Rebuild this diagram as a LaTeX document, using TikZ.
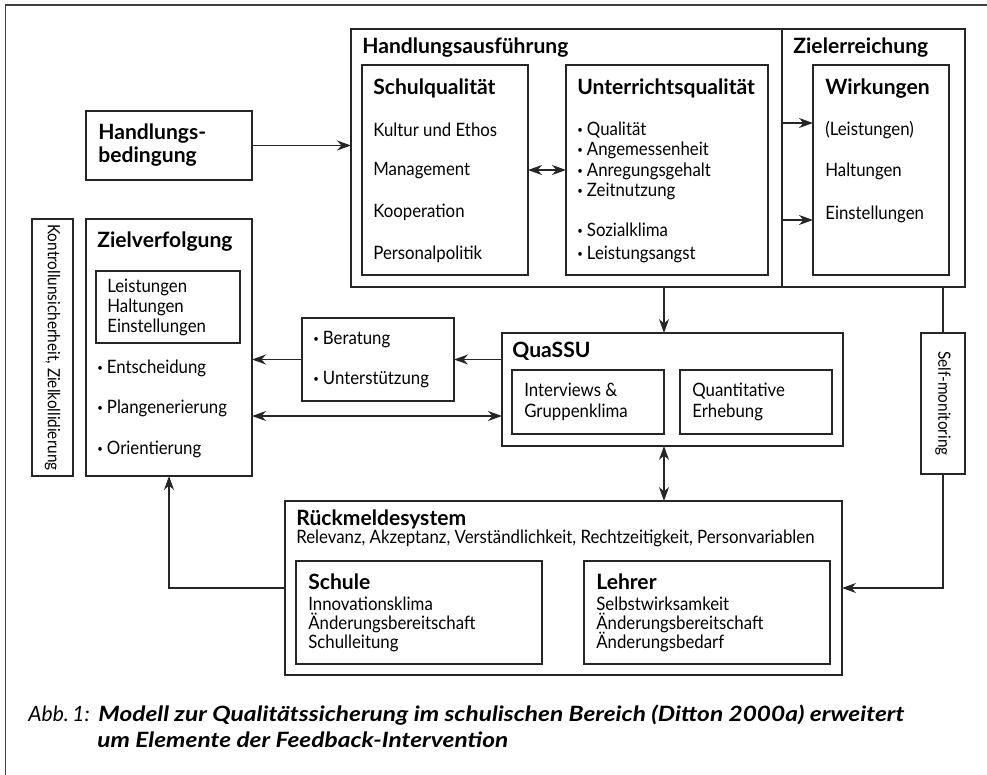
\documentclass[tikz,border=0pt]{standalone}
\usepackage{fontspec}
\setmainfont{Lato}
\newfontfamily\bodyfont{Lato}[FakeStretch=0.91]
\usetikzlibrary{arrows.meta}

\newcommand{\itemdot}{{\raisebox{0.2ex}{\fontsize{6}{6}\selectfont •}}\hspace{0.22em}}

\begin{document}
\begin{tikzpicture}[
  box/.style={draw=black!85, line width=0.8pt, inner sep=0pt, outer sep=0pt, anchor=north west},
  txt/.style={anchor=base west, inner sep=0pt, font=\bodyfont\fontsize{10.5}{12}\selectfont},
  rot/.style={inner sep=0pt, anchor=center, rotate=-90, font=\bodyfont\fontsize{9.6}{11}\selectfont},
  ttl/.style={anchor=base west, inner sep=0pt, font=\fontsize{12}{14}\selectfont\bfseries},
  captxt/.style={anchor=base west, inner sep=0pt, font=\fontsize{12}{14}\selectfont\bfseries\itshape},
  arr/.style={draw=black!85, line width=0.8pt, -{Stealth[length=0.28cm,width=0.2cm,inset=0.09cm]}},
  dbl/.style={draw=black!85, line width=0.8pt, {Stealth[length=0.28cm,width=0.2cm,inset=0.09cm]}-{Stealth[length=0.28cm,width=0.2cm,inset=0.09cm]}},
  line/.style={draw=black!85, line width=0.8pt}
]
  \useasboundingbox (0cm,0cm) rectangle (19.74cm,-15.5cm);
  \draw[draw=black!75, line width=0.8pt] (19.74cm,-0.1cm) -- (0.11cm,-0.1cm) -- (0.11cm,-15.5cm);

  % boxes
  \node[box, minimum width=3.32cm, minimum height=1.38cm] (bed) at (1.72cm,-2.22cm) {};
  \node[box, minimum width=8.62cm, minimum height=5.16cm] (ausf) at (7.02cm,-0.58cm) {};
  \node[box, minimum width=3.66cm, minimum height=5.16cm] (ziel) at (15.64cm,-0.58cm) {};
  \node[box, minimum width=3.32cm, minimum height=4.2cm] (schul) at (7.24cm,-1.3cm) {};
  \node[box, minimum width=4.04cm, minimum height=4.2cm] (unt) at (11.32cm,-1.3cm) {};
  \node[box, minimum width=2.72cm, minimum height=4.2cm] (wirk) at (16.26cm,-1.3cm) {};
  \node[box, minimum width=3.32cm, minimum height=5.14cm] (zielv) at (1.72cm,-4.38cm) {};
  \node[box, minimum width=2.88cm, minimum height=1.44cm] (leist) at (1.92cm,-5.42cm) {};
  \node[box, minimum width=0.82cm, minimum height=5.14cm] (kontr) at (0.64cm,-4.38cm) {};
  \node[box, minimum width=3.04cm, minimum height=1.66cm] (ber) at (6.04cm,-6.36cm) {};
  \node[box, minimum width=6.82cm, minimum height=2.26cm] (quassu) at (10.04cm,-6.66cm) {};
  \node[box, minimum width=3.04cm, minimum height=1.28cm] (interv) at (10.24cm,-7.4cm) {};
  \node[box, minimum width=3.04cm, minimum height=1.28cm] (quant) at (13.6cm,-7.4cm) {};
  \node[box, minimum width=0.88cm, minimum height=2.82cm] (selfm) at (18.42cm,-6.66cm) {};
  \node[box, minimum width=11.14cm, minimum height=3.48cm] (rueck) at (5.7cm,-10.02cm) {};
  \node[box, minimum width=4.92cm, minimum height=2.06cm] (schule) at (5.92cm,-11.22cm) {};
  \node[box, minimum width=4.92cm, minimum height=2.06cm] (lehrer) at (11.68cm,-11.22cm) {};

  % texts
  \node[ttl] (bed-1) at (1.96cm,-2.78cm) {Handlungs-};
  \node[ttl] (bed-2) at (1.96cm,-3.24cm) {bedingung};
  \node[ttl] (ausf-t) at (7.24cm,-1.06cm) {Handlungsausführung};
  \node[ttl] (ziel-t) at (15.86cm,-1.06cm) {Zielerreichung};
  \node[ttl] (schul-t) at (7.46cm,-1.88cm) {Schulqualität};
  \node[txt] (schul-1) at (7.46cm,-2.72cm) {Kultur und Ethos};
  \node[txt] (schul-2) at (7.46cm,-3.5cm) {Management};
  \node[txt] (schul-3) at (7.46cm,-4.34cm) {Kooperation};
  \node[txt] (schul-4) at (7.46cm,-5.18cm) {Personalpolitik};
  \node[ttl] (unt-t) at (11.54cm,-1.88cm) {Unterrichtsqualität};
  \node[txt] (unt-1) at (11.54cm,-2.7cm) {\itemdot Qualität};
  \node[txt] (unt-2) at (11.54cm,-3.1cm) {\itemdot Angemessenheit};
  \node[txt] (unt-3) at (11.54cm,-3.52cm) {\itemdot Anregungsgehalt};
  \node[txt] (unt-4) at (11.54cm,-3.92cm) {\itemdot Zeitnutzung};
  \node[txt] (unt-5) at (11.54cm,-4.72cm) {\itemdot Sozialklima};
  \node[txt] (unt-6) at (11.54cm,-5.18cm) {\itemdot Leistungsangst};
  \node[ttl] (wirk-t) at (16.5cm,-1.88cm) {Wirkungen};
  \node[txt] (wirk-1) at (16.5cm,-2.7cm) {(Leistungen)};
  \node[txt] (wirk-2) at (16.5cm,-3.52cm) {Haltungen};
  \node[txt] (wirk-3) at (16.5cm,-4.38cm) {Einstellungen};
  \node[ttl] (zielv-t) at (1.94cm,-4.94cm) {Zielverfolgung};
  \node[txt] (leist-1) at (2.14cm,-5.84cm) {Leistungen};
  \node[txt] (leist-2) at (2.14cm,-6.24cm) {Haltungen};
  \node[txt] (leist-3) at (2.14cm,-6.64cm) {Einstellungen};
  \node[txt] (zielv-1) at (1.94cm,-7.46cm) {\itemdot Entscheidung};
  \node[txt] (zielv-2) at (1.94cm,-8.26cm) {\itemdot Plangenerierung};
  \node[txt] (zielv-3) at (1.94cm,-9.08cm) {\itemdot Orientierung};
  \node[rot] (kontr-t) at (kontr.center) {Kontrollunsicherheit, Zielkollidierung};
  \node[txt] (ber-1) at (6.26cm,-6.88cm) {\itemdot Beratung};
  \node[txt] (ber-2) at (6.26cm,-7.68cm) {\itemdot Unterstützung};
  \node[ttl] (quassu-t) at (10.24cm,-7.14cm) {QuaSSU};
  \node[txt] (interv-1) at (10.48cm,-7.92cm) {Interviews \&};
  \node[txt] (interv-2) at (10.48cm,-8.34cm) {Gruppenklima};
  \node[txt] (quant-1) at (13.84cm,-7.92cm) {Quantitative};
  \node[txt] (quant-2) at (13.84cm,-8.34cm) {Erhebung};
  \node[rot] (selfm-t) at (selfm.center) {Self-monitoring};
  \node[ttl] (rueck-t) at (5.92cm,-10.5cm) {Rückmeldesystem};
  \node[txt] (rueck-1) at (5.92cm,-10.86cm) {Relevanz, Akzeptanz, Verständlichkeit, Rechtzeitigkeit, Personvariablen};
  \node[ttl] (schule-t) at (6.16cm,-11.78cm) {Schule};
  \node[txt] (schule-1) at (6.16cm,-12.2cm) {Innovationsklima};
  \node[txt] (schule-2) at (6.16cm,-12.58cm) {Änderungsbereitschaft};
  \node[txt] (schule-3) at (6.16cm,-12.96cm) {Schulleitung};
  \node[ttl] (lehrer-t) at (11.92cm,-11.78cm) {Lehrer};
  \node[txt] (lehrer-1) at (11.92cm,-12.2cm) {Selbstwirksamkeit};
  \node[txt] (lehrer-2) at (11.92cm,-12.58cm) {Änderungsbereitschaft};
  \node[txt] (lehrer-3) at (11.92cm,-12.96cm) {Änderungsbedarf};

  % caption
  \node[anchor=base west, inner sep=0pt, font=\fontsize{12}{14}\selectfont\itshape] (cap-0) at (0.56cm,-14.42cm) {Abb.\,1:};
  \node[captxt] (cap-1) at (1.96cm,-14.42cm) {\scalebox{1.16}[1]{Modell zur Qualitätssicherung im schulischen Bereich (Ditton 2000a) erweitert}};
  \node[captxt] (cap-2) at (1.94cm,-14.94cm) {\scalebox{1.16}[1]{um Elemente der Feedback-Intervention}};

  % connectors
  \coordinate (zw1) at (15.64cm,-2.46cm);
  \coordinate (zw2) at (15.64cm,-4.4cm);
  \coordinate (pl) at (5.04cm,-8.32cm);
  \draw[arr] (bed.east) -- (bed.east -| ausf.west);
  \draw[dbl] (schul.east) -- (unt.west);
  \draw[arr] (zw1) -- (zw1 -| wirk.west);
  \draw[arr] (zw2) -- (zw2 -| wirk.west);
  \draw[arr] (interv.east |- ausf.south) -- (interv.east |- quassu.north);
  \draw[dbl] (interv.east |- quassu.south) -- (interv.east |- rueck.north);
  \draw[line] (selfm.north |- ziel.south) -- (selfm.north);
  \draw[arr] (selfm.south) |- (rueck.east);
  \draw[arr] (ber.east -| quassu.west) -- (ber.east);
  \draw[arr] (ber.west) -- (ber.west -| zielv.east);
  \draw[dbl] (pl) -- (pl -| quassu.west);
  \draw[arr] (rueck.west) -| (zielv.south);
\end{tikzpicture}
\end{document}
